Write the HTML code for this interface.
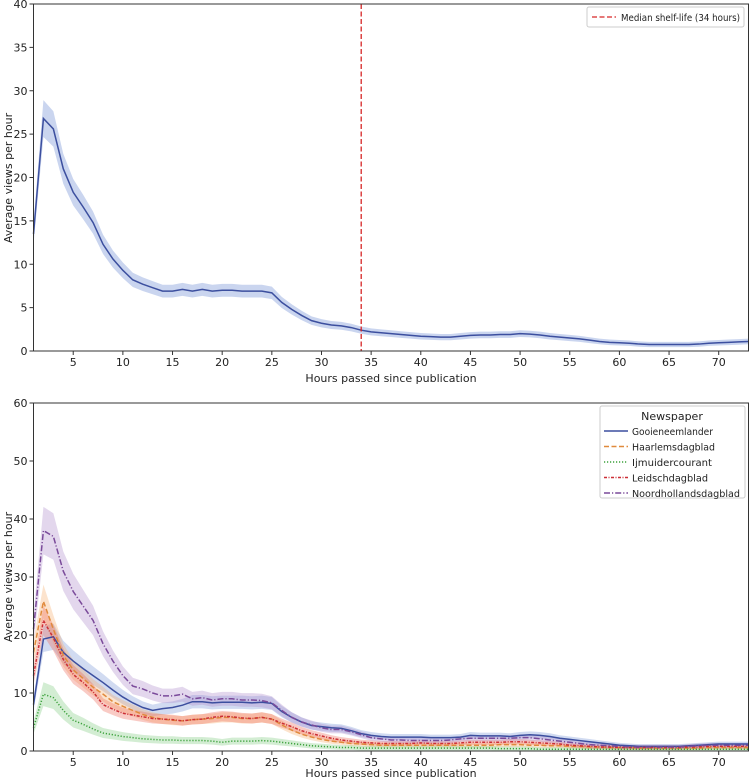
<!DOCTYPE html>
<html><head><meta charset="utf-8"><style>
body{margin:0;background:#fff;}
svg{display:block;font-family:"DejaVu Sans","Liberation Sans",sans-serif;}
</style></head><body>
<svg id="c" width="750" height="782">
<text x="12" y="178" font-size="11" fill="#222" text-anchor="middle" transform="rotate(-90 12 178)">Average views per hour</text>
<text x="391" y="382" font-size="11" fill="#222" text-anchor="middle">Hours passed since publication</text>
<text x="12" y="577" font-size="11" fill="#222" text-anchor="middle" transform="rotate(-90 12 577)">Average views per hour</text>
<text x="391" y="777" font-size="11" fill="#222" text-anchor="middle">Hours passed since publication</text>
</svg>
<script>
const hours=[];for(let h=1;h<=73;h++)hours.push(h);
const overall=[13.5,26.8,25.6,21,18.3,16.6,14.8,12.3,10.6,9.3,8.2,7.7,7.3,6.9,6.9,7.1,6.9,7.1,6.9,7.0,7.0,6.9,6.9,6.9,6.7,5.6,4.8,4.1,3.5,3.2,3.0,2.9,2.7,2.4,2.2,2.1,2.0,1.9,1.8,1.7,1.65,1.6,1.6,1.7,1.8,1.85,1.85,1.9,1.9,2.0,1.95,1.85,1.7,1.6,1.5,1.4,1.25,1.1,1.0,0.95,0.9,0.8,0.75,0.75,0.75,0.75,0.75,0.8,0.9,0.95,1.0,1.05,1.1];
const gooi=[8,19.3,19.7,17,15.5,14.2,13,11.8,10.5,9.3,8.3,7.5,7.0,7.3,7.5,7.9,8.5,8.5,8.3,8.4,8.4,8.4,8.3,8.4,8.2,6.8,5.8,5.0,4.4,4.2,4.0,3.9,3.5,3.0,2.7,2.5,2.4,2.4,2.4,2.4,2.3,2.3,2.3,2.4,2.7,2.6,2.6,2.6,2.5,2.7,2.8,2.7,2.5,2.2,2.0,1.8,1.6,1.4,1.2,1.0,0.9,0.8,0.8,0.8,0.8,0.8,0.9,1.0,1.1,1.2,1.2,1.2,1.2];
const haarlem=[17,25.8,21,16.5,14,12.5,11,9.8,8.5,7.7,7.0,6.3,5.8,5.5,5.3,5.2,5.4,5.5,5.6,5.8,5.8,5.6,5.6,5.8,5.5,4.5,3.6,2.9,2.4,2.0,1.7,1.5,1.3,1.2,1.1,1.0,1.0,1.0,1.0,1.0,1.0,1.0,1.0,1.0,1.0,1.0,1.0,1.1,1.1,1.1,1.0,1.0,0.9,0.9,0.8,0.8,0.7,0.7,0.6,0.6,0.6,0.5,0.5,0.5,0.5,0.5,0.5,0.5,0.6,0.6,0.6,0.6,0.6];
const ijmuiden=[4,9.8,9.2,7,5.3,4.6,3.8,3.1,2.8,2.5,2.3,2.1,2.0,1.9,1.9,1.8,1.8,1.8,1.7,1.5,1.7,1.7,1.7,1.8,1.7,1.5,1.3,1.1,0.9,0.8,0.7,0.6,0.6,0.5,0.5,0.5,0.5,0.5,0.5,0.5,0.5,0.5,0.5,0.5,0.5,0.5,0.5,0.4,0.4,0.4,0.4,0.3,0.3,0.3,0.3,0.3,0.3,0.3,0.3,0.3,0.3,0.3,0.3,0.3,0.3,0.3,0.3,0.3,0.3,0.3,0.3,0.3,0.3];
const leids=[13,22.5,19.5,15.8,13.2,11.8,10.2,8,7.2,6.5,6.2,5.9,5.6,5.5,5.4,5.2,5.4,5.5,5.8,6.0,5.9,5.7,5.6,5.8,5.5,4.8,4.2,3.5,3.0,2.6,2.2,1.9,1.7,1.5,1.4,1.3,1.3,1.3,1.3,1.4,1.3,1.3,1.3,1.4,1.5,1.5,1.5,1.5,1.6,1.6,1.5,1.4,1.3,1.2,1.0,0.9,0.8,0.7,0.7,0.6,0.6,0.6,0.6,0.6,0.6,0.6,0.7,0.7,0.8,0.8,0.8,0.8,0.8];
const noord=[21,38,37,31,27.5,25,22.5,18.5,15.5,13,11.2,10.7,10,9.5,9.5,9.8,9.0,9.2,8.8,9.0,9.0,8.8,8.8,8.7,8.3,7.0,5.8,5.0,4.5,4.0,3.7,3.7,3.3,2.8,2.3,2.1,1.9,1.9,1.8,1.8,1.8,1.8,1.9,2.1,2.2,2.2,2.2,2.2,2.2,2.3,2.3,2.1,1.9,1.7,1.5,1.3,1.1,1.0,0.9,0.8,0.7,0.7,0.7,0.7,0.7,0.7,0.8,0.9,1.0,1.0,1.0,1.0,1.0];
const xTicks=[5,10,15,20,25,30,35,40,45,50,55,60,65,70];
const topYTicks=[0,5,10,15,20,25,30,35,40];
const botYTicks=[0,10,20,30,40,50,60];
const medianHour=34;
const seriesNames=["Gooieneemlander","Haarlemsdagblad","Ijmuidercourant","Leidschdagblad","Noordhollandsdagblad"];

const NS="http://www.w3.org/2000/svg";
const svg=document.getElementById('c');
function el(t,a,p){const e=document.createElementNS(NS,t);for(const k in a)e.setAttribute(k,a[k]);(p||svg).appendChild(e);return e;}
const L=33.5,R=748.5;
const x=h=>L+(h-1)*(R-L)/72;
function makeY(top,bot,max){return v=>bot-(v/max)*(bot-top);}
const yT=makeY(4,351,40), yB=makeY(403,751,60);

function band(vals,y,rel,base,color,op,name){
  let up=vals.map((v,i)=>x(hours[i])+','+y(v*(1+rel)+base)).join(' ');
  let dn=vals.map((v,i)=>x(hours[i])+','+y(Math.max(0,v*(1-rel)-base))).reverse().join(' ');
  const p=el('polygon',{points:up+' '+dn,fill:color,'fill-opacity':op});
  
  
}
function line(vals,y,color,dash,name){
  const p=el('polyline',{points:vals.map((v,i)=>x(hours[i])+','+y(v)).join(' '),fill:'none',stroke:color,'stroke-width':1.5,'stroke-dasharray':dash});
  
  
}
function axes(top,bot,y,yt,pfx){
  const r=el('rect',{x:L,y:top,width:R-L,height:bot-top,fill:'none',stroke:'#333','stroke-width':1});
  
  
  xTicks.forEach(t=>{
    el('line',{x1:x(t),x2:x(t),y1:bot,y2:bot+4,stroke:'#333'});
    const tx=el('text',{x:x(t),y:bot+15,'font-size':11,fill:'#222','text-anchor':'middle'});tx.textContent=t;
    
    
  });
  yt.forEach(t=>{
    el('line',{x1:L-4,x2:L,y1:y(t),y2:y(t),stroke:'#333'});
    const tx=el('text',{x:L-6,y:y(t)+4,'font-size':11,fill:'#222','text-anchor':'end'});tx.textContent=t;
    
    
  });
}
// top chart
band(overall,yT,0.07,0.25,'#7b97d8',0.4,'overall-ci-band');
line(overall,yT,'#3c4f9f','','overall-line');
const med=el('line',{x1:x(medianHour),x2:x(medianHour),y1:4,y2:351,stroke:'#d62728','stroke-width':1.3,'stroke-dasharray':'5,2.5'});


axes(4,351,yT,topYTicks,'top');
// bottom chart
const data=[gooi,haarlem,ijmuiden,leids,noord];
const cols=['#3c4f9f','#e08a3c','#3aa13a','#cc2e36','#7a4a9a'];
const fills=['#7b97d8','#f5b070','#80cc80','#ee6a5a','#b08ccc'];
const dashes=['','5,2.5','1.2,1.8','3,1.5,1,1.5','6,2,1.2,2'];
const rels=[0.1,0.1,0.18,0.1,0.1];
data.forEach((d,i)=>band(d,yB,rels[i],0.3,fills[i],0.35,'band-'+seriesNames[i].toLowerCase()));
data.forEach((d,i)=>line(d,yB,cols[i],dashes[i],'line-'+seriesNames[i].toLowerCase()));
axes(403,751,yB,botYTicks,'bottom');
// top legend
const lg=el('g',{});


el('rect',{x:587,y:7,width:157,height:20,rx:2,fill:'#fff',stroke:'#ccc'},lg);
el('line',{x1:592,x2:616,y1:17,y2:17,stroke:'#d62728','stroke-width':1.3,'stroke-dasharray':'5,2.5'},lg);
const lt=el('text',{x:621,y:21,'font-size':9.5,fill:'#222',textLength:119,lengthAdjust:'spacingAndGlyphs'},lg);lt.textContent='Median shelf-life (34 hours)';
// bottom legend
const lb=el('g',{});


el('rect',{x:600,y:406,width:145,height:92,rx:2,fill:'#fff',stroke:'#ccc'},lb);
const tt=el('text',{x:672,y:420,'font-size':11,fill:'#222','text-anchor':'middle'},lb);tt.textContent='Newspaper';
const legLens=[81,83,80,76,108];
seriesNames.forEach((n,i)=>{
  const yy=434+i*15.5;
  el('line',{x1:604,x2:628,y1:yy-3,y2:yy-3,stroke:cols[i],'stroke-width':1.5,'stroke-dasharray':dashes[i]},lb);
  const t=el('text',{x:632,y:yy+1,'font-size':10,fill:'#222',textLength:legLens[i],lengthAdjust:'spacingAndGlyphs'},lb);t.textContent=n;
  
  
});
</script>
</body></html>
